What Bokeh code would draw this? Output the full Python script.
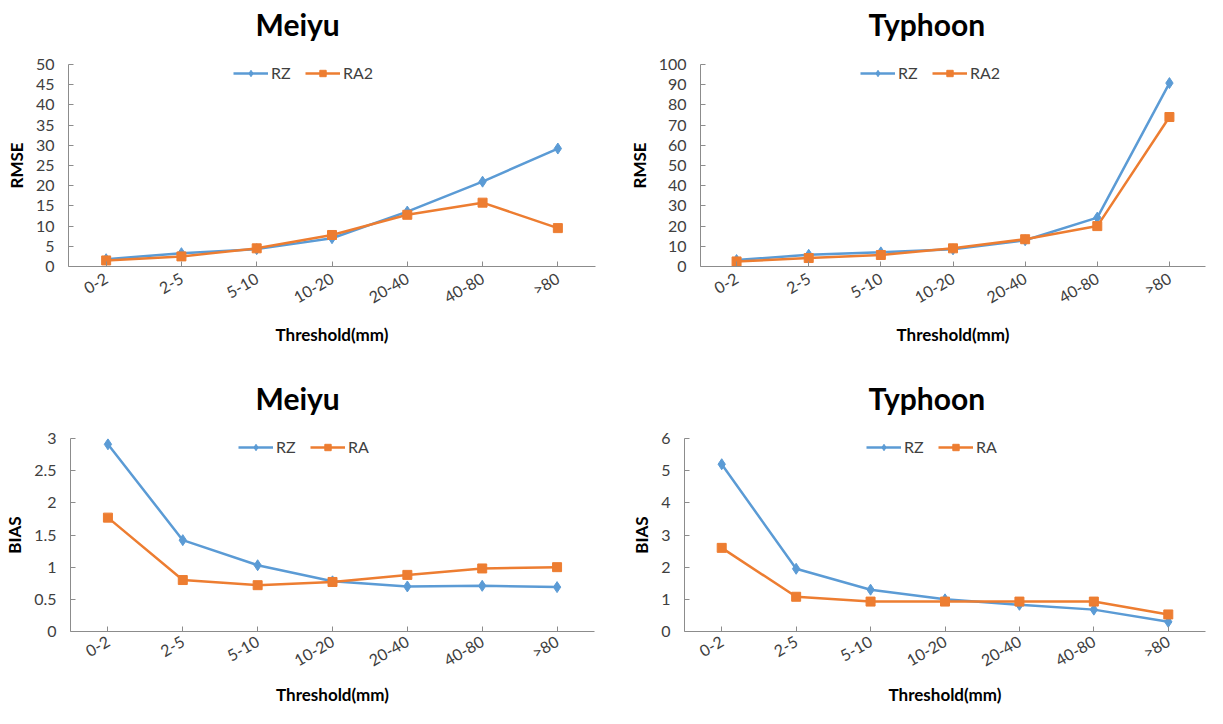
import math
from bokeh.plotting import figure
from bokeh.models import Range1d, FactorRange, FixedTicker, NumeralTickFormatter, Legend, LegendItem, Title
from bokeh.layouts import column, row
from bokeh.embed import file_html
from bokeh.resources import INLINE

categories = ["0-2", "2-5", "5-10", "10-20", "20-40", "40-80", ">80"]

meiyu_rmse_rz = [1.8, 3.3, 4.3, 7.0, 13.6, 21.0, 29.2]
meiyu_rmse_ra2 = [1.5, 2.5, 4.5, 7.8, 12.8, 15.8, 9.5]
typhoon_rmse_rz = [3.2, 5.8, 7.0, 8.5, 13.0, 24.2, 90.8]
typhoon_rmse_ra2 = [2.5, 4.2, 5.7, 9.0, 13.5, 20.0, 74.0]
meiyu_bias_rz = [2.91, 1.42, 1.03, 0.78, 0.70, 0.71, 0.69]
meiyu_bias_ra = [1.77, 0.80, 0.72, 0.77, 0.88, 0.98, 1.00]
typhoon_bias_rz = [5.2, 1.95, 1.3, 1.0, 0.83, 0.68, 0.3]
typhoon_bias_ra = [2.6, 1.08, 0.93, 0.93, 0.93, 0.93, 0.53]

meiyu_rmse_ticks = [0, 5, 10, 15, 20, 25, 30, 35, 40, 45, 50]
typhoon_rmse_ticks = [0, 10, 20, 30, 40, 50, 60, 70, 80, 90, 100]
meiyu_bias_ticks = [0, 0.5, 1, 1.5, 2, 2.5, 3]
typhoon_bias_ticks = [0, 1, 2, 3, 4, 5, 6]

BLUE = "#5B9BD5"
ORANGE = "#ED7D31"
AXIS = "#8C8C8C"
TXT = "#404040"
FONT = "Lato"


def make(title, ylabel, ticks, rz, ra, ra_label, w, h, bl, br, bt, bb,
         title_off, leg_x, leg_y, lab_standoff, xlab_standoff):
    p = figure(x_range=FactorRange(*categories), y_range=Range1d(0, ticks[-1]),
               width=w, height=h,
               min_border_left=bl, min_border_right=br, min_border_top=bt, min_border_bottom=bb,
               output_backend="svg", toolbar_location=None)
    p.outline_line_color = None
    p.xgrid.visible = False
    p.ygrid.visible = False

    # spacer between the frame and the title, then the title itself
    p.add_layout(Title(text=" ", text_font_size="2px", standoff=19), "above")
    p.add_layout(Title(text=title, text_font=FONT, text_font_size="30px",
                       text_font_style="bold", text_color="#000000",
                       align="left", offset=title_off, standoff=0), "above")

    for ax in (p.xaxis[0], p.yaxis[0]):
        ax.axis_line_color = AXIS
        ax.major_tick_line_color = AXIS
        ax.major_tick_in = 5
        ax.major_tick_out = 0
        ax.minor_tick_line_color = None
        ax.major_label_text_font = FONT
        ax.major_label_text_font_size = "16px"
        ax.major_label_text_color = TXT
        ax.axis_label_text_font = FONT
        ax.axis_label_text_font_size = "17px"
        ax.axis_label_text_font_style = "bold"
        ax.axis_label_text_color = "#000000"

    p.yaxis.ticker = FixedTicker(ticks=ticks)
    p.yaxis.formatter = NumeralTickFormatter(format="0.[0]")
    p.yaxis.major_label_standoff = 14
    p.yaxis.axis_label = ylabel
    p.yaxis.axis_label_standoff = 6

    p.xaxis.major_label_orientation = math.pi / 6
    p.xaxis.major_label_standoff = lab_standoff
    p.xaxis.axis_label = "Threshold(mm)"
    p.xaxis.axis_label_standoff = xlab_standoff

    l1 = p.line(categories, rz, line_color=BLUE, line_width=2.5)
    s1 = p.scatter(categories, rz, marker="diamond", size=11, fill_color=BLUE, line_color=BLUE)
    l2 = p.line(categories, ra, line_color=ORANGE, line_width=2.5)
    s2 = p.scatter(categories, ra, marker="square", size=9, fill_color=ORANGE, line_color=ORANGE)

    legend = Legend(items=[LegendItem(label="RZ", renderers=[l1, s1]),
                           LegendItem(label=ra_label, renderers=[l2, s2])],
                    orientation="horizontal", location=(leg_x, leg_y),
                    border_line_alpha=0, background_fill_alpha=0,
                    glyph_width=35, glyph_height=16, label_height=16,
                    label_standoff=3, spacing=14, padding=0, margin=0,
                    label_text_font=FONT, label_text_font_size="16px", label_text_color=TXT)
    p.add_layout(legend)
    return p


# top row: height 350 (frame 202); bottom row: height 358 (frame 195)
p1 = make("Meiyu", "RMSE", meiyu_rmse_ticks, meiyu_rmse_rz, meiyu_rmse_ra2, "RA2",
          602, 350, 68, 7, 64, 84, 187, 165, 184, 10, 7)
p2 = make("Typhoon", "RMSE", typhoon_rmse_ticks, typhoon_rmse_rz, typhoon_rmse_ra2, "RA2",
          605, 350, 98, 2, 64, 84, 168, 160, 184, 10, 7)
p3 = make("Meiyu", "BIAS", meiyu_bias_ticks, meiyu_bias_rz, meiyu_bias_ra, "RA",
          602, 358, 70, 8, 88, 75, 185, 168, 175, 8, 4)
p4 = make("Typhoon", "BIAS", typhoon_bias_ticks, typhoon_bias_rz, typhoon_bias_ra, "RA",
          605, 358, 82, 2, 88, 75, 184, 182, 175, 8, 4)

layout = column(row(p1, p2), row(p3, p4))
open("out.html", "w").write(file_html(layout, INLINE))
